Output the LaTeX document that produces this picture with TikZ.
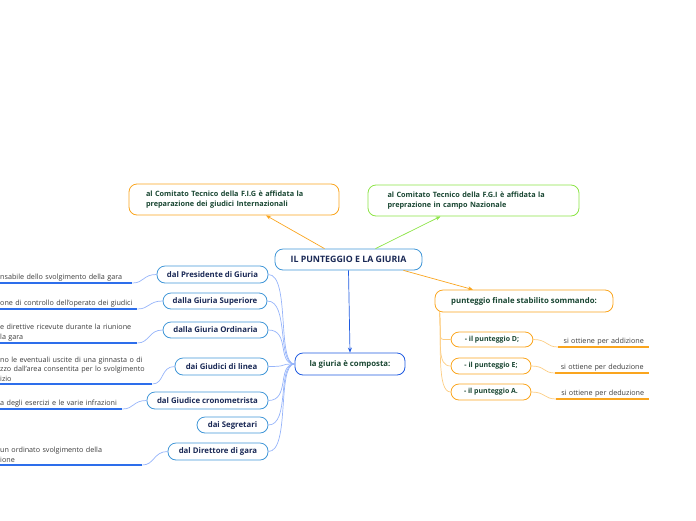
\documentclass[tikz,border=0pt]{standalone}
\usepackage{fontspec}
\setmainfont{Open Sans}
\usetikzlibrary{arrows.meta, positioning}

\definecolor{giuriablue}{RGB}{64,150,215}
\definecolor{deepblue}{RGB}{30,90,225}
\definecolor{softblue}{RGB}{150,180,250}
\definecolor{lineblue}{RGB}{45,110,235}
\definecolor{punteggioorange}{RGB}{250,165,30}
\definecolor{softorange}{RGB}{252,205,130}
\definecolor{figgreen}{RGB}{140,228,70}
\definecolor{navytext}{RGB}{25,40,85}
\definecolor{greentext}{RGB}{25,70,50}
\definecolor{leaftext}{RGB}{60,60,60}

\begin{document}
\begin{tikzpicture}[
    x=1pt, y=-1pt,
    topic/.style={draw, rounded corners=8pt, line width=0.8pt, inner sep=0pt, align=center,
        font=\fontsize{7.8}{9.5}\selectfont\bfseries},
    bluetopic/.style={topic, draw=giuriablue, text=navytext},
    orangetopic/.style={topic, draw=punteggioorange, text=greentext},
    subtopic/.style={orangetopic, font=\fontsize{7}{9}\selectfont\bfseries},
    leafL/.style={inner xsep=0pt, inner ysep=2pt, anchor=south west, align=left, text=leaftext,
        font=\fontsize{7.2}{9.8}\selectfont},
    leafR/.style={inner xsep=0pt, inner ysep=2pt, anchor=south west, align=center, text=leaftext,
        font=\fontsize{7.2}{9.8}\selectfont},
    link/.style={-{Stealth[length=5pt, width=4pt]}, line width=0.7pt},
    branch/.style={softblue, line width=0.7pt},
    obranch/.style={softorange, line width=0.7pt},
    uline/.style={lineblue, line width=1.6pt},
    ouline/.style={punteggioorange, line width=1.4pt}
]
    \useasboundingbox (0,0) rectangle (696,520);
    \clip (0,0) rectangle (696,520);

    % main topic and the two committees
    \node[bluetopic, minimum width=147pt, minimum height=21pt, font=\fontsize{8.8}{10}\selectfont\bfseries] (main) at (348.5,259.5) {IL PUNTEGGIO E LA GIURIA};
    \node[orangetopic, minimum width=210pt, minimum height=31pt, text width=176pt, align=left, font=\fontsize{7.3}{10}\selectfont\bfseries] (internaz) at (234,199.5)
        {al Comitato Tecnico della F.I.G è affidata la\\preparazione dei giudici Internazionali};
    \node[topic, draw=figgreen, text=greentext, minimum width=211pt, minimum height=31pt, text width=172pt, align=left, font=\fontsize{7.3}{10}\selectfont\bfseries] (nazionale) at (473.5,200.5)
        {al Comitato Tecnico della F.G.I è affidata la\\preprazione in campo Nazionale};
    \node[orangetopic, minimum width=178pt, minimum height=22pt] (finale) at (524,301) {punteggio finale stabilito sommando:};
    \node[topic, draw=deepblue, text=greentext, minimum width=110pt, minimum height=22pt] (giuria) at (350,364) {la giuria è composta:};

    \draw[link, punteggioorange] ([xshift=-24pt]main.north) -- ([xshift=32pt]internaz.south);
    \draw[link, figgreen] ([xshift=27pt]main.north) -- ([xshift=-33pt]nazionale.south);
    \draw[link, punteggioorange] ([xshift=55pt]main.south) -- ([xshift=-51pt]finale.north);
    \draw[link, deepblue] (main.south) -- (giuria.north);

    % punteggio D, E, A
    \node[subtopic, minimum width=82pt, minimum height=15pt] (pD) at (492,339.5) {- il punteggio D;};
    \node[subtopic, minimum width=80pt, minimum height=16pt] (pE) at (491,366) {- il punteggio E;};
    \node[subtopic, minimum width=80pt, minimum height=16pt] (pA) at (491,392) {- il punteggio A.};

    \node[leafR, text width=91pt] (addiz) at (558,347) {si ottiene per addizione};
    \node[leafR, text width=94pt] (deduzE) at (555,373) {si ottiene per deduzione};
    \node[leafR, text width=93pt] (deduzA) at (556,399) {si ottiene per deduzione};

    \foreach \p in {pD, pE, pA}
        \draw[obranch] ([xshift=5pt]finale.south west) .. controls +(2,30) and +(-14,0) .. (\p.west);
    \foreach \p/\l in {pD/addiz, pE/deduzE, pA/deduzA} {
        \draw[obranch] (\p.east) .. controls +(14,0) and +(-12,0) .. (\l.south west);
        \draw[ouline] (\l.south west) -- (\l.south east);
    }

    % composizione della giuria
    \node[bluetopic, minimum width=111pt, minimum height=17pt] (presidente) at (212.5,274.5) {dal Presidente di Giuria};
    \node[bluetopic, minimum width=104pt, minimum height=16pt] (superiore) at (215,301) {dalla Giuria Superiore};
    \node[bluetopic, minimum width=105pt, minimum height=16pt] (ordinaria) at (215.5,330) {dalla Giuria Ordinaria};
    \node[bluetopic, minimum width=93pt, minimum height=17pt] (linea) at (221.5,366.5) {dai Giudici di linea};
    \node[bluetopic, minimum width=121pt, minimum height=17pt] (crono) at (207.5,400.5) {dal Giudice cronometrista};
    \node[bluetopic, minimum width=71pt, minimum height=16pt] (segretari) at (232.5,425) {dai Segretari};
    \node[bluetopic, minimum width=100pt, minimum height=17pt] (direttore) at (218,451.5) {dal Direttore di gara};

    \node[leafL, text width=132pt] (tPres) at (0,283) {nsabile dello svolgimento della gara};
    \node[leafL, text width=137pt] (tSup) at (0,309) {one di controllo dell'operato dei giudici};
    \node[leafL, text width=137pt] (tOrd) at (0,343) {e direttive ricevute durante la riunione\\ la gara};
    \node[leafL, text width=152pt] (tLin) at (0,384) {no le eventuali uscite di una ginnasta o di\\zzo dall'area consentita per lo svolgimento\\izio};
    \node[leafL, text width=122pt] (tCro) at (0,409) {a degli esercizi e le varie infrazioni};
    \node[leafL, text width=142pt] (tDir) at (0,465) {un ordinato svolgimento della\\ione};

    \foreach \n in {presidente, superiore, ordinaria, linea, crono, segretari, direttore}
        \draw[branch] (giuria.west) .. controls +(-18,0) and +(22,0) .. (\n.east);
    \foreach \n/\t in {presidente/tPres, superiore/tSup, ordinaria/tOrd, linea/tLin, crono/tCro, direttore/tDir} {
        \draw[branch] (\n.west) .. controls +(-14,0) and +(12,0) .. (\t.south east);
        \draw[uline] (\t.south west) -- (\t.south east);
    }
\end{tikzpicture}
\end{document}
